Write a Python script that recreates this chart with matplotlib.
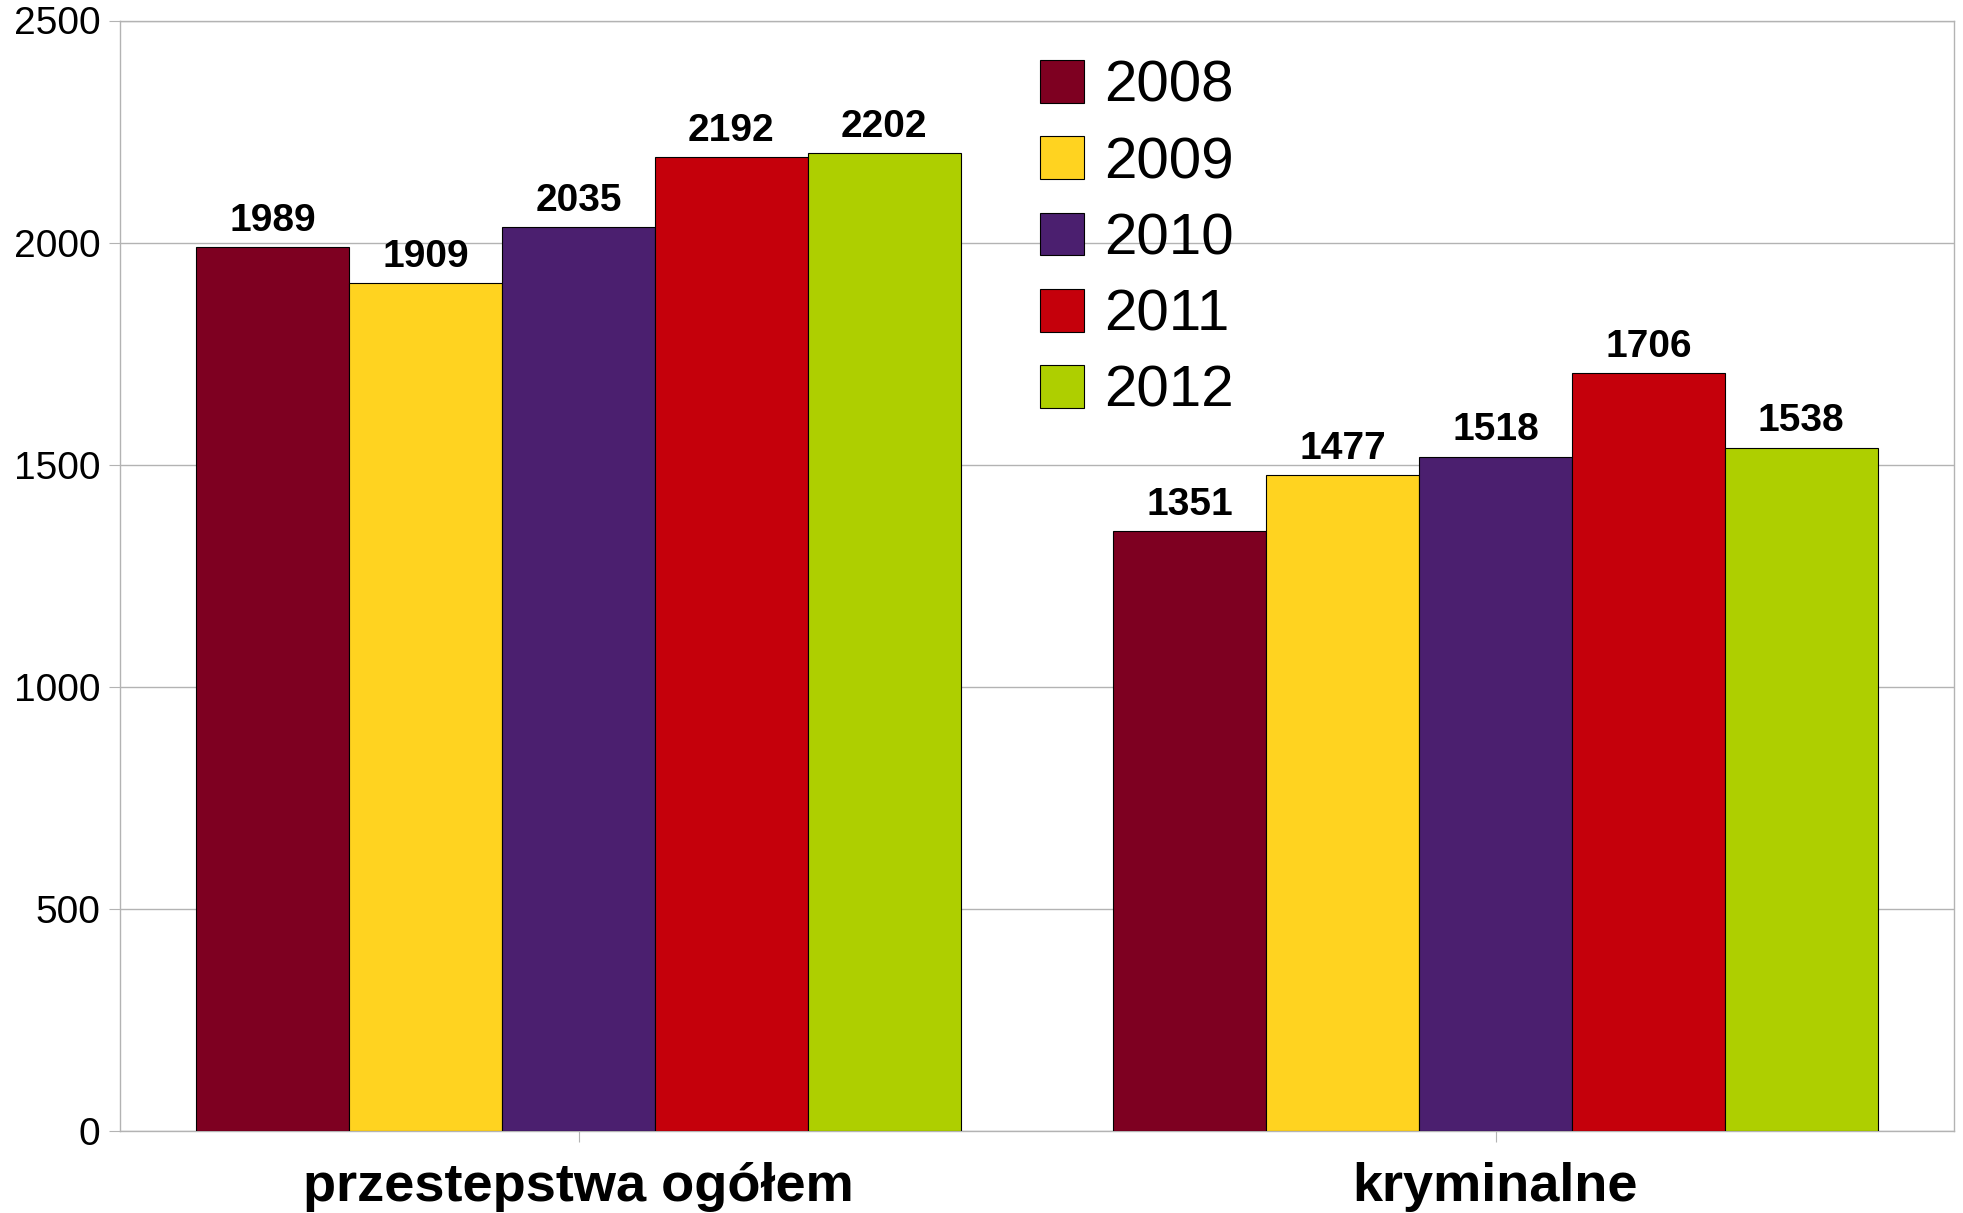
import matplotlib
matplotlib.use("Agg")
import matplotlib.pyplot as plt
import numpy as np

categories = ["przestepstwa ogółem", "kryminalne"]
years = ["2008", "2009", "2010", "2011", "2012"]
values = {
    "2008": [1989, 1351],
    "2009": [1909, 1477],
    "2010": [2035, 1518],
    "2011": [2192, 1706],
    "2012": [2202, 1538],
}
colors = ["#7e0021", "#ffd320", "#4b1f6f", "#c5000b", "#aecf00"]
yticks = [0, 500, 1000, 1500, 2000, 2500]

plt.rcParams['font.family'] = ['Liberation Sans', 'DejaVu Sans']

fig = plt.figure(figsize=(19.63, 12.13), dpi=100)
ax = fig.add_axes([120/1963, 1 - 1131/1213, (1954-120)/1963, (1131-20.5)/1213])

x = np.arange(len(categories))
w = 1/6
for i, (yr, c) in enumerate(zip(years, colors)):
    pos = x + (i - 2) * w
    bars = ax.bar(pos, values[yr], width=w, color=c, edgecolor="black", linewidth=0.8, label=yr, zorder=3)
    for b, v in zip(bars, values[yr]):
        ax.annotate(str(v), (b.get_x() + b.get_width()/2, v), xytext=(0, 6), textcoords="offset points",
                    ha="center", va="bottom", fontsize=28, fontweight="bold", zorder=4)

ax.set_xlim(-0.5, 1.5)
ax.set_ylim(0, 2500)
ax.set_yticks(yticks)
ax.set_xticks(x)
ax.set_xticklabels(categories, fontsize=39, fontweight="bold")
ax.tick_params(axis="y", labelsize=28, length=8, color="#b3b3b3", pad=6)
ax.tick_params(axis="x", length=8, color="#b3b3b3", pad=14)
ax.grid(axis="y", color="#b3b3b3", linewidth=1, zorder=0)
for s in ax.spines.values():
    s.set_color("#b3b3b3")
    s.set_linewidth(1)

ax.legend(loc="upper left", bbox_to_anchor=(1040/1963, 1 - 60/1213), bbox_transform=fig.transFigure,
          frameon=False, fontsize=42, handlelength=0.75, handleheight=0.75, handletextpad=0.35,
          labelspacing=0.38, borderpad=0, borderaxespad=0)

fig.savefig("out.png", dpi=100)
